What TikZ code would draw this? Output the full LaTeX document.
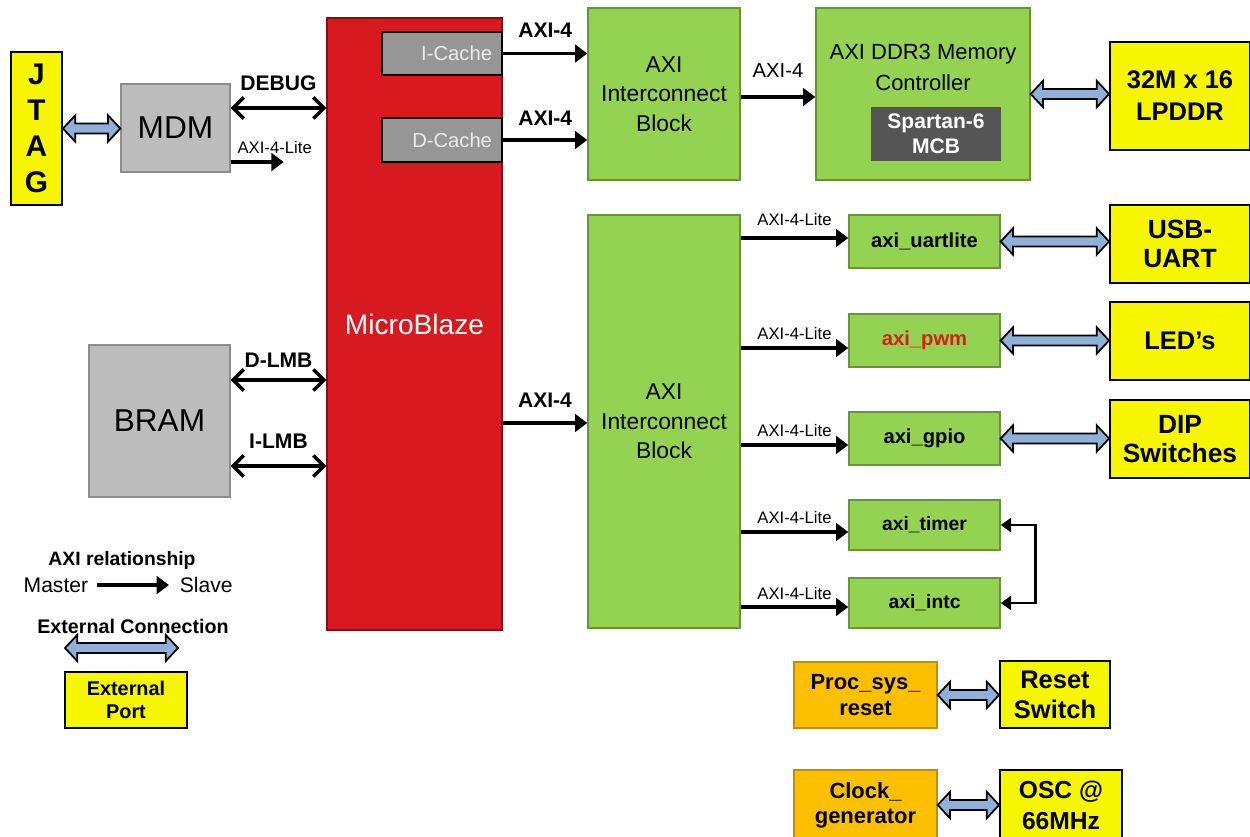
\documentclass[tikz,border=0pt]{standalone}
\usepackage{fontspec}
\setmainfont{Liberation Sans}
\usepackage{tikz}
\usetikzlibrary{arrows.meta,calc,positioning}

\definecolor{mbred}{RGB}{216,26,32}
\definecolor{icgreen}{RGB}{148,210,82}
\definecolor{extyellow}{RGB}{246,246,0}
\definecolor{sysorange}{RGB}{252,192,0}
\definecolor{ipgray}{RGB}{188,188,188}
\definecolor{cachegray}{RGB}{150,150,150}
\definecolor{mcbgray}{RGB}{85,85,85}
\definecolor{extblue}{RGB}{143,176,216}
\definecolor{pwmred}{RGB}{215,30,30}

% fat blue double arrow between two points (external connection)
\newcommand\extlink[2]{%
  \draw[extarrow] let \p1=(#1), \p2=(#2) in
    (\x1,\y1) -- (\x1+7pt,\y1+7.5pt) -- (\x1+7pt,\y1+2.8pt) -- (\x2-7pt,\y1+2.8pt)
    -- (\x2-7pt,\y1+7.5pt) -- (\x2,\y1) -- (\x2-7pt,\y1-7.5pt) -- (\x2-7pt,\y1-2.8pt)
    -- (\x1+7pt,\y1-2.8pt) -- (\x1+7pt,\y1-7.5pt) -- cycle;}

\begin{document}
\begin{tikzpicture}[x=0.02cm, y=-0.02cm,
  blk/.style={align=center, inner sep=2pt, line width=0.8pt},
  ipbox/.style={blk, fill=ipgray, draw=ipgray!75!black, font=\fontsize{18}{21}\selectfont},
  mbbox/.style={blk, fill=mbred, draw=mbred!60!black, text=white, font=\fontsize{16}{19}\selectfont},
  cachebox/.style={blk, fill=cachegray, draw=black, line width=1.3pt, text=white!92!black,
    minimum width=2.4cm, minimum height=0.87cm, inner xsep=0.2cm, text width=2.0cm, align=right,
    font=\fontsize{11.5}{14}\selectfont},
  icbox/.style={blk, fill=icgreen, draw=icgreen!70!black, font=\fontsize{13}{16.8}\selectfont},
  perbox/.style={blk, fill=icgreen, draw=icgreen!70!black, minimum width=3.02cm,
    font=\bfseries\fontsize{11.5}{14}\selectfont},
  extbox/.style={blk, fill=extyellow, draw=black, line width=1.1pt, font=\bfseries\fontsize{14.5}{17}\selectfont},
  sysbox/.style={blk, fill=sysorange, draw=sysorange!75!black, minimum width=2.86cm,
    font=\bfseries\fontsize{12.5}{15.3}\selectfont},
  mcbbox/.style={blk, fill=mcbgray, draw=none, text=white, minimum width=2.6cm, minimum height=1.08cm,
    font=\bfseries\fontsize{12}{14.2}\selectfont},
  lbl/.style={inner sep=1pt, font=\bfseries\fontsize{12}{14}\selectfont},
  lite/.style={inner sep=1pt, font=\fontsize{9.5}{11}\selectfont},
  axi/.style={line width=2pt, -{Triangle[length=7pt,width=10pt]}},
  bus/.style={line width=2pt, {Straight Barb[length=6pt,width=12pt]}-{Straight Barb[length=6pt,width=12pt]}},
  extarrow/.style={fill=extblue, draw=black, line width=1pt, line join=miter}]

\useasboundingbox (0,0) rectangle (1250,837);
\fill[white] (0,0) rectangle (1250,837);
\clip (0,0) rectangle (1250,837);

% debug side
\node[extbox, font=\bfseries\fontsize{17}{20.5}\selectfont, minimum width=1.02cm, minimum height=3.06cm] (jtag) at (36.5,128.5) {J\\T\\A\\G};
\node[ipbox, minimum width=2.18cm, minimum height=1.76cm] (mdm) at (175.5,128) {MDM};
\node[ipbox, minimum width=2.82cm, minimum height=3.04cm] (bram) at (159.5,421) {BRAM};

% processor
\node[mbbox, minimum width=3.5cm, minimum height=12.24cm] (mb) at (414.5,324) {MicroBlaze};
\node[cachebox] (icache) at (442,53.5) {I-Cache};
\node[cachebox] (dcache) at (442,140) {D-Cache};

% memory path
\node[icbox, minimum width=3.04cm, minimum height=3.44cm] (ictop) at (664,94) {AXI\\Interconnect\\Block};
\node[icbox, minimum width=4.28cm, minimum height=3.44cm] (ddr) at (923,94) {};
\node[font=\fontsize{12.5}{17.6}\selectfont, align=center] (ddrname) at (923,67.5) {AXI DDR3 Memory\\Controller};
\node[mcbbox] (mcb) at (936,134) {Spartan-6\\MCB};
\node[extbox, font=\bfseries\fontsize{14.5}{18.2}\selectfont, minimum width=2.8cm, minimum height=2.16cm] (lpddr) at (1180,96) {32M x 16\\LPDDR};

% peripheral path
\node[icbox, minimum width=3.04cm, minimum height=8.26cm] (icbot) at (664,421.5) {AXI\\Interconnect\\Block};
\node[perbox, minimum height=1.06cm] (uart) at (924.5,241.5) {axi\_uartlite};
\node[perbox, minimum height=1.06cm, text=pwmred] (pwm) at (924.5,340.5) {axi\_pwm};
\node[perbox, minimum height=1.06cm] (gpio) at (924.5,438.5) {axi\_gpio};
\node[perbox, minimum height=1.0cm, font=\bfseries\fontsize{11}{13}\selectfont] (timer) at (924.5,525) {axi\_timer};
\node[perbox, minimum height=1.0cm, font=\bfseries\fontsize{11}{13}\selectfont] (intc) at (924.5,603) {axi\_intc};
\node[extbox, font=\bfseries\fontsize{15}{16.5}\selectfont, minimum width=2.8cm, minimum height=1.56cm] (usb) at (1180,244) {USB-\\UART};
\node[extbox, minimum width=2.8cm, minimum height=1.56cm] (led) at (1180,341) {LED’s};
\node[extbox, font=\bfseries\fontsize{15}{16.5}\selectfont, minimum width=2.8cm, minimum height=1.56cm] (dip) at (1180,439) {DIP\\Switches};

% reset and clock
\node[sysbox, minimum height=1.32cm] (psr) at (865.5,695) {Proc\_sys\_\\reset};
\node[extbox, font=\bfseries\fontsize{14.5}{17}\selectfont, minimum width=2.2cm, minimum height=1.34cm] (rst) at (1055,694.5) {Reset\\Switch};
\node[sysbox, minimum height=1.4cm, font=\bfseries\fontsize{12.5}{14.2}\selectfont] (clk) at (865.5,805) {Clock\_\\generator};
\node[extbox, font=\bfseries\fontsize{14}{17.6}\selectfont, minimum width=2.44cm, minimum height=1.4cm] (osc) at (1061,805) {OSC @\\66MHz};

% legend
\node[lbl, font=\bfseries\fontsize{11}{13}\selectfont] (axirel) at (122,561) {AXI relationship};
\node[anchor=east, inner sep=2pt, font=\fontsize{12}{14}\selectfont] (master) at (92,585) {Master};
\node[anchor=west, inner sep=2pt, font=\fontsize{12}{14}\selectfont] (slave) at (176,585) {Slave};
\node[lbl, font=\bfseries\fontsize{11.2}{13}\selectfont] (extconn) at (133,626) {External Connection};
\coordinate (exl) at (65,648);
\coordinate (exr) at (178,648);
\node[extbox, font=\bfseries\fontsize{11.3}{13}\selectfont, minimum width=2.44cm, minimum height=1.12cm] (extport) at (126,700) {External\\Port};

% connections
\extlink{jtag.east}{mdm.west}
\draw[bus] (mdm.east |- 0,108) -- node[lbl, above=8pt]{DEBUG} (mb.west |- 0,108);
\draw[axi] (mdm.east |- 0,162) -- node[lite, above=3pt, pos=0.83]{AXI-4-Lite} ++(53,0);
\draw[bus] (bram.east |- 0,380) -- node[lbl, above=5pt]{D-LMB} (mb.west |- 0,380);
\draw[bus] (bram.east |- 0,466) -- node[lbl, above=8pt]{I-LMB} (mb.west |- 0,466);

\draw[axi] (icache.east) -- node[lbl, above=7pt]{AXI-4} (icache.east -| ictop.west);
\draw[axi] (dcache.east) -- node[lbl, above=6pt]{AXI-4} (dcache.east -| ictop.west);
\draw[axi] (ictop.east |- 0,97) -- node[above=9pt, inner sep=1pt, font=\fontsize{11.5}{13}\selectfont]{AXI-4} (ddr.west |- 0,97);
\extlink{ddr.east}{lpddr.west}
\draw[axi] (mb.east |- 0,423) -- node[lbl, above=7pt]{AXI-4} (icbot.west |- 0,423);

\draw[axi] (icbot.east |- 0,238) -- node[lite, above=5pt]{AXI-4-Lite} (uart.west |- 0,238);
\draw[axi] (icbot.east |- 0,348) -- node[lite, above=3pt]{AXI-4-Lite} (pwm.west |- 0,348);
\draw[axi] (icbot.east |- 0,445) -- node[lite, above=3pt]{AXI-4-Lite} (gpio.west |- 0,445);
\draw[axi] (icbot.east |- 0,532) -- node[lite, above=3pt]{AXI-4-Lite} (timer.west |- 0,532);
\draw[axi] (icbot.east |- 0,607) -- node[lite, above=2pt]{AXI-4-Lite} (intc.west |- 0,607);
\draw[line width=1.6pt, {Triangle[length=6pt,width=8pt]}-{Triangle[length=6pt,width=8pt]}] (timer.east) -- ++(35,0) |- (intc.east);

\extlink{uart.east}{usb.west}
\extlink{pwm.east}{led.west}
\extlink{gpio.east}{dip.west}
\extlink{psr.east}{rst.west}
\extlink{clk.east}{osc.west}

\draw[axi, shorten <=3pt, shorten >=4pt] (master) -- (slave);
\extlink{exl}{exr}
\end{tikzpicture}
\end{document}
